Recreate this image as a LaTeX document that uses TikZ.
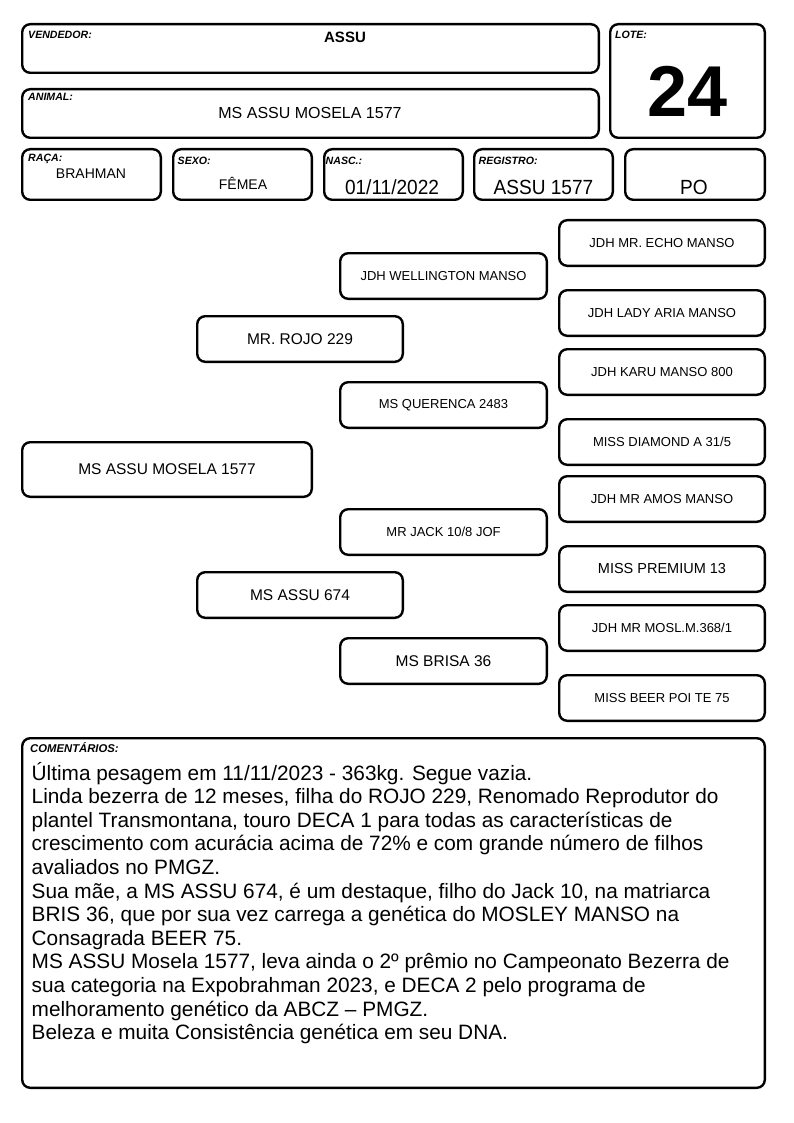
\documentclass[tikz,border=0pt]{standalone}
\usepackage{fontspec}
\setmainfont{Liberation Sans}
\newcommand\squeeze[1]{\scalebox{0.93}[1]{#1}}
\tikzset{
  x=1pt, y=-1pt,
  box/.style={draw, line width=2.4pt, rounded corners=8pt, inner sep=0pt},
  colbox/.style={box, minimum width=205.6pt, minimum height=45.6pt},
  lab/.style={font=\fontsize{10.6}{12}\selectfont\bfseries\itshape, anchor=base west, inner sep=0pt},
  small/.style={font=\fontsize{13}{15}\selectfont},
  big/.style={font=\fontsize{15.5}{18}\selectfont},
  val/.style={anchor=base, inner sep=0pt},
}
\begin{document}
\begin{tikzpicture}
\useasboundingbox[fill=white] (0,0) rectangle (794,1123);
% header boxes
\node[box, minimum width=576.6pt, minimum height=48.6pt] (vend) at (310.5,48.5) {};
\node[box, minimum width=154.6pt, minimum height=113.6pt] (lote) at (687.5,81) {};
\node[box, minimum width=576.6pt, minimum height=48.6pt] (animal) at (310.5,113.5) {};
\node[box, minimum width=138.6pt, minimum height=50.6pt] (raca) at (91.5,174.5) {};
\node[box, minimum width=138.6pt, minimum height=50.6pt] (sexo) at (242.5,174.5) {};
\node[box, minimum width=138.6pt, minimum height=50.6pt] (nasc) at (393.5,174.5) {};
\node[box, minimum width=138.6pt, minimum height=50.6pt] (reg) at (543.5,174.5) {};
\node[box, minimum width=139.6pt, minimum height=50.6pt] (po) at (695,174.5) {};
% labels
\node[lab] (lvend) at (28,39) {VENDEDOR:};
\node[lab] (llote) at (615,39) {LOTE:};
\node[lab] (lanimal) at (28,100.5) {ANIMAL:};
\node[lab] (lraca) at (28,161.5) {RAÇA:};
\node[lab] (lsexo) at (177.5,164.5) {SEXO:};
\node[lab] (lnasc) at (325.5,164.5) {NASC.:};
\node[lab] (lreg) at (478.5,164.5) {REGISTRO:};
% values
\node[val, font=\fontsize{15}{18}\selectfont\bfseries] (tvend) at (345,42.5) {ASSU};
\node[val, font=\fontsize{72}{80}\selectfont\bfseries] (tlote) at (687.5,116.7) {24};
\node[val, font=\fontsize{16}{19}\selectfont] (tanimal) at (310,118.7) {MS ASSU MOSELA 1577};
\node[val, font=\fontsize{14}{17}\selectfont] (traca) at (91,178.3) {BRAHMAN};
\node[val, font=\fontsize{14}{17}\selectfont] (tsexo) at (243,190) {FÊMEA};
\node[val, font=\fontsize{20.5}{24}\selectfont] (tnasc) at (392,194.5) {\squeeze{01/11/2022}};
\node[val, font=\fontsize{20.5}{24}\selectfont] (treg) at (543.5,194.5) {\squeeze{ASSU 1577}};
\node[val, font=\fontsize{20.5}{24}\selectfont] (tpo) at (694,194.5) {\squeeze{PO}};
% pedigree
\node[box, big, minimum width=289.6pt, minimum height=54.6pt] (p0) at (167,469.5) {MS ASSU MOSELA 1577};
\node[colbox, big] (p1) at (300,339) {MR. ROJO 229};
\node[colbox, big] (p2) at (300,595) {MS ASSU 674};
\node[colbox, small, minimum width=206.6pt] (p3) at (443.5,276) {JDH WELLINGTON MANSO};
\node[colbox, small, minimum width=206.6pt] (p4) at (443.5,405) {MS QUERENCA 2483};
\node[colbox, small, minimum width=206.6pt] (p5) at (443.5,532) {MR JACK 10/8 JOF};
\node[colbox, big, minimum width=206.6pt] (p6) at (443.5,661) {MS BRISA 36};
\node[colbox, small] (p7) at (662,243) {JDH MR. ECHO MANSO};
\node[colbox, small] (p8) at (662,313) {JDH LADY ARIA MANSO};
\node[colbox, small] (p9) at (662,372) {JDH KARU MANSO 800};
\node[colbox, small] (p10) at (662,442) {MISS DIAMOND A 31/5};
\node[colbox, small] (p11) at (662,499) {JDH MR AMOS MANSO};
\node[colbox, font=\fontsize{14.5}{17}\selectfont] (p12) at (662,569) {MISS PREMIUM 13};
\node[colbox, small] (p13) at (662,628) {JDH MR MOSL.M.368/1};
\node[colbox, small] (p14) at (662,698) {MISS BEER POI TE 75};
% comments
\node[box, minimum width=742.6pt, minimum height=349.6pt] (com) at (393.5,913) {};
\node[lab, font=\fontsize{11.3}{13}\selectfont\bfseries\itshape] (lcom) at (30,752.5) {COMENTÁRIOS:};
\node[anchor=base west, inner sep=0pt, font=\fontsize{20.8}{23.6}\selectfont] (tcom) at (31.5,1039.6) {%
\begin{tabular}[b]{@{}l@{}}
Última pesagem em 11/11/2023 - 363kg. Segue vazia.\\
Linda bezerra de 12 meses, filha do ROJO 229, Renomado Reprodutor do\\
plantel Transmontana, touro DECA 1 para todas as características de\\
crescimento com acurácia acima de 72\% e com grande número de filhos\\
avaliados no PMGZ.\\
Sua mãe, a MS ASSU 674, é um destaque, filho do Jack 10, na matriarca\\
BRIS 36, que por sua vez carrega a genética do MOSLEY MANSO na\\
Consagrada BEER 75.\\
MS ASSU Mosela 1577, leva ainda o 2º prêmio no Campeonato Bezerra de\\
sua categoria na Expobrahman 2023, e DECA 2 pelo programa de\\
melhoramento genético da ABCZ – PMGZ.\\
Beleza e muita Consistência genética em seu DNA.
\end{tabular}};
\end{tikzpicture}
\end{document}
